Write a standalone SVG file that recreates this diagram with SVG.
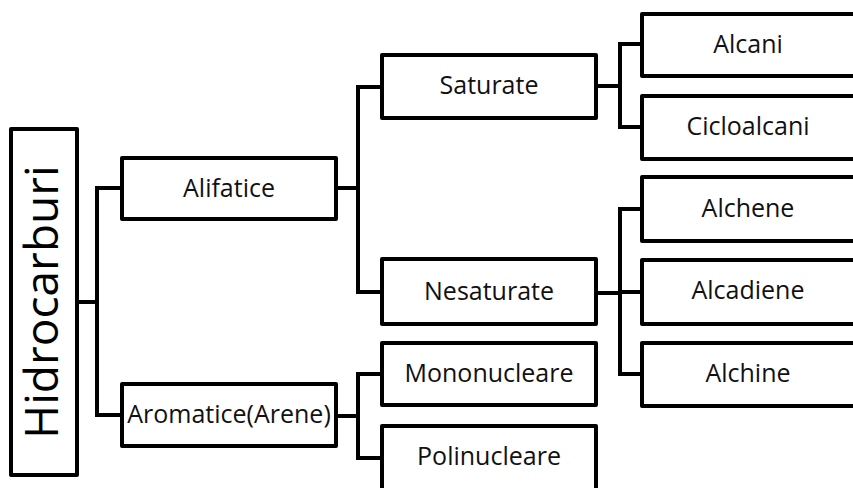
<svg xmlns="http://www.w3.org/2000/svg" width="853" height="488" viewBox="0 0 853 488">
<style>
.box{fill:#fff;stroke:#000;stroke-width:4;stroke-linejoin:round}
.lbl{font-family:"Open Sans","Noto Sans",sans-serif;font-size:25px;fill:#111;text-anchor:middle}
.big{font-family:"Open Sans","Noto Sans",sans-serif;font-size:46px;fill:#000;text-anchor:middle}
.con{fill:none;stroke:#000;stroke-width:4;stroke-linejoin:miter}
</style>
<rect width="853" height="488" fill="#fff"/>
<g id="connectors">
<path class="con" d="M79 302H97M120 188H97V415H120"/>
<path class="con" d="M338 188H358M380 87H358V292H380"/>
<path class="con" d="M338 416H358M380 374H358V458H380"/>
<path class="con" d="M598 86H620M640 44H620V127H640"/>
<path class="con" d="M598 293H620M640 209H620V374H640M620 292H640"/>
</g>
<g id="hidrocarburi"><rect class="box" x="11" y="129" width="66" height="346"/><text class="big" transform="translate(58 302) rotate(-90)">Hidrocarburi</text></g>
<g id="alifatice"><rect class="box" x="122" y="158" width="214" height="61"/><text class="lbl" x="229" y="197">Alifatice</text></g>
<g id="aromatice"><rect class="box" x="122" y="384" width="214" height="62"/><text class="lbl" x="229" y="423">Aromatice(Arene)</text></g>
<g id="saturate"><rect class="box" x="382" y="55" width="214" height="63"/><text class="lbl" x="489" y="94">Saturate</text></g>
<g id="nesaturate"><rect class="box" x="382" y="259" width="214" height="65"/><text class="lbl" x="489" y="300">Nesaturate</text></g>
<g id="mononucleare"><rect class="box" x="382" y="343" width="214" height="62"/><text class="lbl" x="489" y="382">Mononucleare</text></g>
<g id="polinucleare"><rect class="box" x="382" y="426" width="214" height="80"/><text class="lbl" x="489" y="465">Polinucleare</text></g>
<g id="alcani"><rect class="box" x="642" y="14" width="214" height="62"/><text class="lbl" x="748" y="53">Alcani</text></g>
<g id="cicloalcani"><rect class="box" x="642" y="96" width="214" height="63"/><text class="lbl" x="748" y="135">Cicloalcani</text></g>
<g id="alchene"><rect class="box" x="642" y="177" width="214" height="64"/><text class="lbl" x="748" y="217">Alchene</text></g>
<g id="alcadiene"><rect class="box" x="642" y="260" width="214" height="64"/><text class="lbl" x="748" y="299">Alcadiene</text></g>
<g id="alchine"><rect class="box" x="642" y="343" width="214" height="63"/><text class="lbl" x="748" y="382">Alchine</text></g>
</svg>
